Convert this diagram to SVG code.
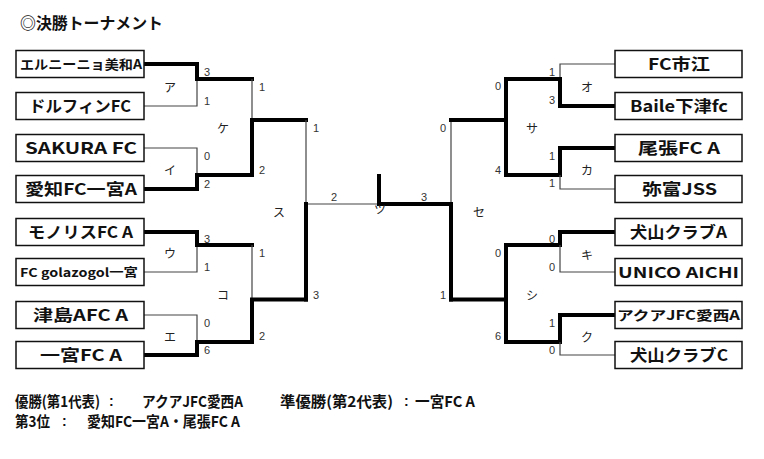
<svg xmlns="http://www.w3.org/2000/svg" width="764" height="459" viewBox="0 0 764 459">
  <style>
    .box { fill: #fff; stroke: #111; stroke-width: 1.5; }
    .team { font-family: "Noto Sans CJK JP", "Liberation Sans", sans-serif; font-weight: 700; fill: #111; text-anchor: middle; }
    .thin { fill: none; stroke: #444; stroke-width: 1.2; }
    .thick { fill: none; stroke: #000; stroke-width: 4; stroke-linejoin: miter; stroke-linecap: square; }
    .score { font-family: "Liberation Sans", "DejaVu Sans", sans-serif; font-size: 11px; fill: #333; }
    .match { font-family: "Noto Sans CJK JP", sans-serif; font-size: 12px; fill: #222; text-anchor: middle; }
    .note { font-family: "Noto Sans CJK JP", "Liberation Sans", sans-serif; font-weight: 700; font-size: 15px; fill: #111; }
    .colon { font-family: "Liberation Sans", sans-serif; font-weight: 700; font-size: 14px; fill: #111; }
    .title { font-family: "Noto Sans CJK JP", "Liberation Sans", sans-serif; font-weight: 700; font-size: 16px; fill: #111; }
  </style>

  <rect width="764" height="459" fill="#fff"/>

  <text class="title" x="20" y="29" textLength="143" lengthAdjust="spacingAndGlyphs">◎決勝トーナメント</text>

  <!-- bracket lines -->
  <g id="connectors">
    <!-- left half, first round -->
    <path class="thin" d="M144,106 H197 V79"/>
    <path class="thick" d="M144,64 H197 V79 H252"/>
    <path class="thin" d="M144,148 H197 V175"/>
    <path class="thick" d="M144,189 H197 V175 H252"/>
    <path class="thin" d="M144,272 H197 V245"/>
    <path class="thick" d="M144,232 H197 V245 H252"/>
    <path class="thin" d="M144,315 H197 V342"/>
    <path class="thick" d="M144,355 H197 V342 H252"/>
    <!-- left half, second round -->
    <path class="thin" d="M252,79 V120"/>
    <path class="thick" d="M252,175 V120 H306"/>
    <path class="thin" d="M252,245 V299.5"/>
    <path class="thick" d="M252,342 V299.5 H306"/>
    <!-- left semi-final -->
    <path class="thin" d="M306,120 V204 H379"/>
    <path class="thick" d="M306,299.5 V204"/>
    <!-- final -->
    <path class="thick" d="M379,176 V204 H451"/>
    <!-- right semi-final -->
    <path class="thin" d="M451,120 V204"/>
    <path class="thick" d="M451,299.5 V204"/>
    <path class="thick" d="M451,120 H506"/>
    <path class="thick" d="M451,299.5 H506"/>
    <!-- right half, second round -->
    <path class="thick" d="M560,79 H506 V175 H560"/>
    <path class="thick" d="M560,245 H506 V342 H560"/>
    <!-- right half, first round -->
    <path class="thin" d="M615,64 H560 V79"/>
    <path class="thick" d="M560,79 V106 H615"/>
    <path class="thick" d="M615,148 H560 V175"/>
    <path class="thin" d="M560,175 V189 H615"/>
    <path class="thick" d="M615,232 H560 V245"/>
    <path class="thin" d="M560,245 V272 H615"/>
    <path class="thick" d="M615,315 H560 V342"/>
    <path class="thin" d="M560,342 V355 H615"/>
  </g>

  <!-- left teams -->
  <g id="team-L1"><rect class="box" x="16" y="50.5" width="128" height="27"/><text class="team" x="81" y="69" font-size="13" textLength="122" lengthAdjust="spacingAndGlyphs">エルニーニョ美和A</text></g>
  <g id="team-L2"><rect class="box" x="16" y="92.5" width="128" height="27"/><text class="team" x="80" y="112" font-size="16" textLength="102" lengthAdjust="spacingAndGlyphs">ドルフィンFC</text></g>
  <g id="team-L3"><rect class="box" x="16" y="134.5" width="128" height="27"/><text class="team" x="81" y="154" font-size="16" textLength="112" lengthAdjust="spacingAndGlyphs">SAKURA FC</text></g>
  <g id="team-L4"><rect class="box" x="16" y="175.5" width="128" height="27"/><text class="team" x="81" y="195" font-size="16" textLength="112" lengthAdjust="spacingAndGlyphs">愛知FC一宮A</text></g>
  <g id="team-L5"><rect class="box" x="16" y="218.5" width="128" height="27"/><text class="team" x="80.5" y="238" font-size="16" textLength="105" lengthAdjust="spacingAndGlyphs">モノリスFC A</text></g>
  <g id="team-L6"><rect class="box" x="16" y="258.5" width="128" height="27"/><text class="team" x="79" y="277" font-size="12" textLength="118" lengthAdjust="spacingAndGlyphs">FC golazogol一宮</text></g>
  <g id="team-L7"><rect class="box" x="16" y="301.5" width="128" height="27"/><text class="team" x="80.5" y="321" font-size="16" textLength="95" lengthAdjust="spacingAndGlyphs">津島AFC A</text></g>
  <g id="team-L8"><rect class="box" x="16" y="341.5" width="128" height="27"/><text class="team" x="81" y="361" font-size="16" textLength="82" lengthAdjust="spacingAndGlyphs">一宮FC A</text></g>

  <!-- right teams -->
  <g id="team-R1"><rect class="box" x="615" y="50.5" width="127" height="27"/><text class="team" x="679" y="70" font-size="16" textLength="62" lengthAdjust="spacingAndGlyphs">FC市江</text></g>
  <g id="team-R2"><rect class="box" x="615" y="92.5" width="127" height="27"/><text class="team" x="679" y="112" font-size="16" textLength="98" lengthAdjust="spacingAndGlyphs">Baile下津fc</text></g>
  <g id="team-R3"><rect class="box" x="615" y="134.5" width="127" height="27"/><text class="team" x="679" y="154" font-size="16" textLength="82" lengthAdjust="spacingAndGlyphs">尾張FC A</text></g>
  <g id="team-R4"><rect class="box" x="615" y="175.5" width="127" height="27"/><text class="team" x="679.5" y="195" font-size="16" textLength="75" lengthAdjust="spacingAndGlyphs">弥富JSS</text></g>
  <g id="team-R5"><rect class="box" x="615" y="218.5" width="127" height="27"/><text class="team" x="678.5" y="238" font-size="16" textLength="97" lengthAdjust="spacingAndGlyphs">犬山クラブA</text></g>
  <g id="team-R6"><rect class="box" x="615" y="258.5" width="127" height="27"/><text class="team" x="678.5" y="278" font-size="15" textLength="121" lengthAdjust="spacingAndGlyphs">UNICO AICHI</text></g>
  <g id="team-R7"><rect class="box" x="615" y="301.5" width="127" height="27"/><text class="team" x="678.5" y="320" font-size="13" textLength="123" lengthAdjust="spacingAndGlyphs">アクアJFC愛西A</text></g>
  <g id="team-R8"><rect class="box" x="615" y="341.5" width="127" height="27"/><text class="team" x="679" y="361" font-size="16" textLength="98" lengthAdjust="spacingAndGlyphs">犬山クラブC</text></g>

  <!-- match names -->
  <g id="match-labels">
    <text class="match" x="170" y="92">ア</text>
    <text class="match" x="170" y="175">イ</text>
    <text class="match" x="170" y="258">ウ</text>
    <text class="match" x="170" y="342">エ</text>
    <text class="match" x="223" y="133">ケ</text>
    <text class="match" x="223" y="300">コ</text>
    <text class="match" x="279" y="217">ス</text>
    <text class="match" x="380" y="214">ツ</text>
    <text class="match" x="479" y="217">セ</text>
    <text class="match" x="532" y="133">サ</text>
    <text class="match" x="532" y="300">シ</text>
    <text class="match" x="587" y="92">オ</text>
    <text class="match" x="587" y="175">カ</text>
    <text class="match" x="587" y="260">キ</text>
    <text class="match" x="587" y="342">ク</text>
  </g>

  <!-- scores -->
  <g id="scores">
    <text class="score" x="204" y="76">3</text>
    <text class="score" x="204" y="105">1</text>
    <text class="score" x="204" y="160">0</text>
    <text class="score" x="204" y="188">2</text>
    <text class="score" x="204" y="243">3</text>
    <text class="score" x="204" y="271">1</text>
    <text class="score" x="204" y="327">0</text>
    <text class="score" x="204" y="354">6</text>
    <text class="score" x="259" y="91">1</text>
    <text class="score" x="259" y="174">2</text>
    <text class="score" x="259" y="257">1</text>
    <text class="score" x="259" y="340">2</text>
    <text class="score" x="313" y="132">1</text>
    <text class="score" x="313" y="299">3</text>
    <text class="score" x="331" y="201">2</text>
    <text class="score" x="421" y="201">3</text>
    <text class="score" x="440" y="132">0</text>
    <text class="score" x="440" y="299">1</text>
    <text class="score" x="495" y="90">0</text>
    <text class="score" x="495" y="174">4</text>
    <text class="score" x="495" y="257">0</text>
    <text class="score" x="495" y="340">6</text>
    <text class="score" x="549" y="76">1</text>
    <text class="score" x="549" y="104">3</text>
    <text class="score" x="549" y="160">1</text>
    <text class="score" x="549" y="187">1</text>
    <text class="score" x="549" y="243">0</text>
    <text class="score" x="549" y="271">0</text>
    <text class="score" x="549" y="327">1</text>
    <text class="score" x="549" y="354">0</text>
  </g>

  <!-- results -->
  <g id="results">
    <text class="note" x="15" y="407" textLength="85" lengthAdjust="spacingAndGlyphs">優勝(第1代表)</text>
    <text class="colon" x="109" y="406">:</text>
    <text class="note" x="142" y="407" textLength="101" lengthAdjust="spacingAndGlyphs">アクアJFC愛西A</text>
    <text class="note" x="280" y="407" textLength="113" lengthAdjust="spacingAndGlyphs">準優勝(第2代表)</text>
    <text class="colon" x="404" y="406">:</text>
    <text class="note" x="415" y="407" textLength="60" lengthAdjust="spacingAndGlyphs">一宮FC A</text>
    <text class="note" x="15" y="427" textLength="35" lengthAdjust="spacingAndGlyphs">第3位</text>
    <text class="colon" x="62" y="426">:</text>
    <text class="note" x="87" y="427" textLength="153" lengthAdjust="spacingAndGlyphs">愛知FC一宮A・尾張FC A</text>
  </g>
</svg>
